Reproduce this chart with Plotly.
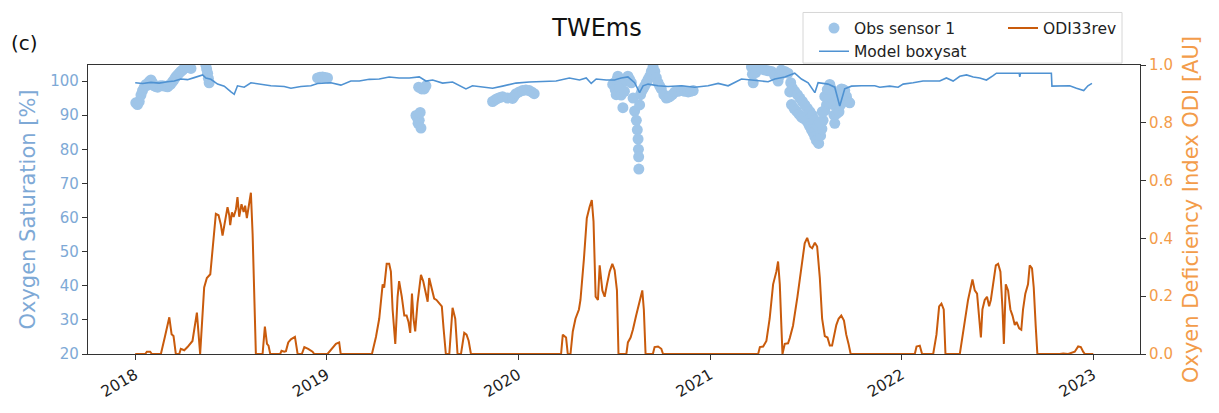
import numpy as np
import pandas as pd
import plotly.graph_objects as go

# ---------------- data (decimal years) ----------------
odi_time = [2018.000, 2018.052, 2018.061, 2018.078, 2018.087, 2018.134, 2018.155, 2018.178, 2018.190, 2018.200,
            2018.212, 2018.230, 2018.238, 2018.256, 2018.273, 2018.299, 2018.322, 2018.339, 2018.360, 2018.374,
            2018.392, 2018.400, 2018.413, 2018.421, 2018.435, 2018.447, 2018.456, 2018.468, 2018.482, 2018.491,
            2018.496, 2018.505, 2018.514, 2018.526, 2018.534, 2018.543, 2018.555, 2018.566, 2018.574, 2018.583,
            2018.595, 2018.604, 2018.613, 2018.621, 2018.630, 2018.665, 2018.677, 2018.688, 2018.696, 2018.705,
            2018.757, 2018.764, 2018.778, 2018.787, 2018.799, 2018.813, 2018.834, 2018.848, 2018.870, 2018.883,
            2018.903, 2018.926, 2018.935, 2019.004, 2019.022, 2019.048, 2019.065, 2019.073,
            2019.236, 2019.257, 2019.274, 2019.292, 2019.300, 2019.313, 2019.326, 2019.335, 2019.344, 2019.358,
            2019.370, 2019.378, 2019.392, 2019.405, 2019.417, 2019.427, 2019.436, 2019.445, 2019.453, 2019.462,
            2019.474, 2019.492, 2019.504, 2019.514, 2019.527, 2019.535, 2019.549, 2019.561, 2019.573, 2019.587,
            2019.601, 2019.610, 2019.622, 2019.640, 2019.657, 2019.671, 2019.683, 2019.701, 2019.718, 2019.730,
            2019.741, 2019.753,
            2020.223, 2020.232, 2020.249, 2020.258, 2020.272, 2020.284, 2020.298, 2020.316, 2020.324, 2020.342,
            2020.357, 2020.371, 2020.383, 2020.392, 2020.403, 2020.415, 2020.424, 2020.438, 2020.450, 2020.462,
            2020.476, 2020.490, 2020.502, 2020.514, 2020.522, 2020.563, 2020.571, 2020.585, 2020.597, 2020.614,
            2020.627, 2020.637, 2020.646, 2020.654, 2020.663, 2020.701, 2020.710, 2020.728, 2020.745, 2020.754,
            2021.250, 2021.259, 2021.276, 2021.293, 2021.310, 2021.328, 2021.337, 2021.345, 2021.354, 2021.363,
            2021.371, 2021.377, 2021.389, 2021.406, 2021.415, 2021.432, 2021.455, 2021.476, 2021.493, 2021.506,
            2021.520, 2021.532, 2021.546, 2021.558, 2021.572, 2021.584, 2021.598, 2021.612, 2021.624, 2021.636,
            2021.647, 2021.658, 2021.670, 2021.684, 2021.698, 2021.710, 2021.722, 2021.733,
            2022.068, 2022.077, 2022.094, 2022.106, 2022.164, 2022.181, 2022.195, 2022.207, 2022.219, 2022.228,
            2022.303, 2022.329, 2022.346, 2022.369, 2022.381, 2022.393, 2022.404, 2022.413, 2022.421, 2022.433,
            2022.445, 2022.456, 2022.465, 2022.477, 2022.491, 2022.503, 2022.515, 2022.526, 2022.533, 2022.543,
            2022.555, 2022.567, 2022.578, 2022.590, 2022.599, 2022.613, 2022.624, 2022.633, 2022.645, 2022.659,
            2022.668, 2022.680, 2022.689, 2022.699, 2022.708, 2022.825, 2022.843, 2022.869, 2022.886, 2022.903,
            2022.921, 2022.935, 2022.947, 2022.956, 2023.000]
odi_value = [0, 0, 0.008, 0.008, 0, 0, 0.06, 0.127, 0.068, 0.062,
             0, 0, 0.018, 0.013, 0.024, 0.045, 0.143, 0, 0.23, 0.263,
             0.276, 0.329, 0.43, 0.485, 0.480, 0.448, 0.410, 0.459, 0.508, 0.480,
             0.446, 0.490, 0.474, 0.501, 0.543, 0.475, 0.518, 0.491, 0.513, 0.470,
             0.529, 0.558, 0.415, 0.198, 0, 0, 0.095, 0.035, 0.029, 0,
             0, 0.011, 0.008, 0.010, 0.040, 0.051, 0.059, 0, 0, 0.024,
             0.018, 0.008, 0, 0, 0.013, 0.035, 0.040, 0,
             0, 0.059, 0.122, 0.241, 0.230, 0.312, 0.312, 0.285, 0.154, 0.035,
             0.198, 0.252, 0.198, 0.133, 0.133, 0.111, 0.073, 0.209, 0.122, 0.078,
             0.176, 0.274, 0.252, 0.220, 0.181, 0.263, 0.220, 0.192, 0.187, 0.176,
             0.165, 0.089, 0, 0, 0.160, 0.122, 0, 0, 0.073, 0.067,
             0.046, 0,
             0, 0.067, 0.057, 0, 0, 0.078, 0.122, 0.154, 0.187, 0.329,
             0.470, 0.508, 0.533, 0.459, 0.198, 0.187, 0.307, 0.220, 0.198, 0.241,
             0.285, 0.312, 0.290, 0.220, 0, 0, 0.04, 0.057, 0.084, 0.133,
             0.165, 0.198, 0.220, 0.154, 0, 0, 0.024, 0.026, 0.018, 0,
             0, 0.024, 0.026, 0.045, 0.122, 0.241, 0.263, 0.285, 0.320, 0.241,
             0.100, 0, 0.035, 0.037, 0.055, 0.098, 0.198, 0.307, 0.383, 0.402,
             0.372, 0.366, 0.385, 0.372, 0.263, 0.122, 0.062, 0.057, 0.029, 0.029,
             0.067, 0.100, 0.122, 0.133, 0.116, 0.067, 0.035, 0,
             0, 0.026, 0.029, 0, 0, 0.067, 0.165, 0.174, 0.154, 0,
             0, 0.111, 0.187, 0.258, 0.220, 0.209, 0.122, 0.057, 0.154, 0.187,
             0.198, 0.165, 0.187, 0.241, 0.307, 0.312, 0.285, 0.154, 0.035, 0.241,
             0.220, 0.154, 0.133, 0.100, 0.111, 0.089, 0.084, 0.154, 0.209, 0.241,
             0.307, 0.296, 0.230, 0.100, 0, 0, 0.002, 0, 0.004, 0.008,
             0.026, 0.024, 0.008, 0, 0]

model_time = [2018.000, 2018.038, 2018.082, 2018.125, 2018.169, 2018.204, 2018.238, 2018.273, 2018.308, 2018.334,
              2018.352, 2018.369, 2018.395, 2018.430, 2018.465, 2018.500, 2018.517, 2018.534, 2018.569, 2018.604,
              2018.656, 2018.708, 2018.778, 2018.813, 2018.865, 2018.917, 2018.952, 2019.022, 2019.074, 2019.126,
              2019.170, 2019.222, 2019.274, 2019.326, 2019.378, 2019.431, 2019.483, 2019.518, 2019.553, 2019.605,
              2019.657, 2019.692, 2019.727, 2019.761, 2019.814, 2019.866, 2019.918, 2019.988, 2020.057, 2020.127,
              2020.197, 2020.266, 2020.319, 2020.354, 2020.380, 2020.406, 2020.458, 2020.501, 2020.536, 2020.571,
              2020.606, 2020.632, 2020.650, 2020.676, 2020.728, 2020.780, 2020.850, 2020.919, 2020.989, 2021.041,
              2021.093, 2021.163, 2021.233, 2021.302, 2021.337, 2021.389, 2021.441, 2021.476, 2021.511, 2021.546,
              2021.563, 2021.615, 2021.650, 2021.676, 2021.702, 2021.737, 2021.789, 2021.859, 2021.885, 2021.937,
              2021.981, 2022.007, 2022.059, 2022.111, 2022.198, 2022.233, 2022.268, 2022.303, 2022.338, 2022.373,
              2022.407, 2022.442, 2022.477, 2022.494, 2022.613, 2022.616, 2022.620, 2022.781, 2022.784, 2022.825,
              2022.877, 2022.912, 2022.950, 2022.972, 2022.993]
model_value = [99.5, 99.3, 99.6, 99.4, 99.8, 100.0, 100.6, 100.4, 101.0, 101.5,
               101.8, 100.9, 100.5, 99.1, 98.5, 96.8, 96.1, 98.6, 98.2, 99.5,
               99.1, 98.6, 98.4, 97.9, 98.4, 98.6, 99.3, 99.5, 98.8, 100.0,
               100.0, 100.5, 100.6, 101.2, 100.9, 100.9, 101.2, 100.0, 100.3, 99.4,
               99.7, 98.8, 97.7, 98.6, 98.2, 97.9, 98.5, 99.4, 99.7, 99.9,
               100.0, 100.9, 100.3, 100.9, 99.3, 100.6, 100.3, 100.3, 100.9, 101.2,
               99.5, 96.6, 98.6, 99.1, 98.6, 98.4, 98.6, 98.2, 98.6, 99.3,
               98.6, 100.6, 100.3, 99.8, 100.6, 101.2, 102.3, 100.6, 99.5, 96.6,
               99.5, 99.1, 98.2, 92.7, 97.7, 98.5, 98.6, 98.6, 98.2, 98.5,
               98.2, 99.1, 99.5, 100.0, 100.0, 100.9, 100.0, 101.4, 101.8, 101.2,
               100.9, 100.3, 101.6, 102.3, 102.3, 101.2, 102.3, 102.3, 98.5, 98.5,
               98.6, 97.9, 97.2, 98.6, 99.3]

obs_time = [2018.003, 2018.012, 2018.021, 2018.030, 2018.038, 2018.047, 2018.056, 2018.064, 2018.073, 2018.082,
            2018.090, 2018.099, 2018.108, 2018.117, 2018.130, 2018.143, 2018.156, 2018.169, 2018.178, 2018.186,
            2018.195, 2018.204, 2018.212, 2018.221, 2018.230, 2018.238, 2018.247, 2018.256, 2018.264, 2018.273,
            2018.282, 2018.291, 2018.369, 2018.373, 2018.378, 2018.382, 2018.386,
            2018.952, 2018.965, 2018.978, 2018.991, 2019.004,
            2019.480, 2019.496, 2019.509, 2019.518, 2019.466, 2019.475, 2019.483, 2019.477, 2019.492, 2019.488,
            2019.866, 2019.879, 2019.892, 2019.905, 2019.918, 2019.944, 2019.970, 2019.979, 2019.988, 2020.005,
            2020.022, 2020.040, 2020.057, 2020.070, 2020.083,
            2020.492, 2020.501, 2020.505, 2020.510, 2020.515, 2020.519, 2020.527, 2020.536, 2020.545, 2020.553,
            2020.562, 2020.571, 2020.580, 2020.589, 2020.598, 2020.606, 2020.615, 2020.620, 2020.624, 2020.626,
            2020.627, 2020.628, 2020.632, 2020.637, 2020.643, 2020.650, 2020.658, 2020.667, 2020.676, 2020.685,
            2020.693, 2020.702, 2020.711, 2020.719, 2020.728, 2020.737, 2020.745, 2020.758, 2020.771, 2020.780,
            2020.789, 2020.802, 2020.815, 2020.832, 2020.850, 2020.867, 2020.885, 2020.898, 2020.911,
            2021.215, 2021.220, 2021.224, 2021.237, 2021.250, 2021.268, 2021.285, 2021.302, 2021.320, 2021.337,
            2021.354, 2021.362, 2021.371, 2021.389, 2021.406, 2021.415, 2021.420, 2021.424, 2021.437, 2021.450,
            2021.463, 2021.476, 2021.489, 2021.502, 2021.511, 2021.520, 2021.528, 2021.537, 2021.546, 2021.554,
            2021.566, 2021.576, 2021.583, 2021.589, 2021.598, 2021.607, 2021.615, 2021.624, 2021.632, 2021.641,
            2021.646, 2021.650, 2021.659, 2021.667, 2021.676, 2021.685, 2021.694, 2021.702, 2021.711, 2021.719,
            2021.728,
            2021.428, 2021.441, 2021.455, 2021.468, 2021.481, 2021.494, 2021.507, 2021.520, 2021.533, 2021.546,
            2021.559, 2021.572, 2021.585, 2021.598, 2021.611, 2021.624, 2021.655, 2021.663, 2021.672, 2021.680]
obs_value = [93.6, 93.1, 94.0, 95.9, 97.2, 98.2, 99.0, 98.8, 99.8, 100.3,
             99.5, 98.6, 98.4, 98.2, 98.6, 98.6, 98.5, 98.3, 98.8, 99.1,
             99.8, 100.5, 101.2, 101.8, 102.3, 102.8, 103.2, 103.7, 103.9, 104.1,
             104.0, 103.7, 104.6, 103.5, 102.3, 100.8, 99.5,
             100.9, 101.1, 101.2, 101.0, 100.9,
             98.2, 97.7, 97.7, 98.6, 89.9, 89.0, 88.5, 87.6, 86.2, 90.8,
             94.0, 94.5, 94.9, 95.2, 95.4, 95.0, 94.9, 95.6, 96.3, 96.8,
             97.2, 97.4, 97.2, 96.8, 96.3,
             99.0, 99.5, 97.5, 96.0, 100.5, 101.4, 98.0, 95.9, 92.2, 97.0,
             100.0, 101.4, 100.5, 99.5, 95.0, 91.2, 88.5, 85.7, 83.0, 80.0,
             77.8, 74.2, 93.0, 96.0, 97.0, 97.7, 98.5, 99.5, 100.5, 101.4,
             102.8, 104.1, 102.8, 101.0, 99.5, 98.5, 97.7, 96.0, 95.0, 95.2,
             95.4, 96.0, 96.8, 97.0, 97.2, 97.0, 96.8, 97.0, 97.2,
             104.1, 102.0, 99.5, 102.5, 103.7, 103.5, 103.2, 103.0, 102.8, 101.5,
             100.0, 101.5, 103.2, 102.8, 102.3, 96.8, 99.5, 93.1, 92.0, 91.2,
             90.3, 89.4, 89.0, 88.5, 87.6, 86.7, 85.8, 84.9, 83.7, 82.6,
             81.7, 84.0, 86.0, 88.5, 91.3, 93.0, 95.0, 96.5, 97.7, 93.1,
             90.0, 87.6, 90.4, 95.0, 96.5, 97.7, 97.5, 97.2, 95.5, 94.0,
             93.6,
             98.0, 97.0, 96.0, 95.0, 94.0, 93.0, 92.0, 91.0, 90.0, 88.5,
             87.0, 88.0, 91.0, 95.5, 97.5, 99.0, 96.0, 92.5, 91.0, 93.0]

year_ticks = ["2018", "2019", "2020", "2021", "2022", "2023"]
left_ticks = [20, 30, 40, 50, 60, 70, 80, 90, 100]
right_ticks = [0.0, 0.2, 0.4, 0.6, 0.8, 1.0]


def to_date(values):
    out = []
    for v in values:
        yr = int(np.floor(v))
        start = pd.Timestamp(yr, 1, 1)
        end = pd.Timestamp(yr + 1, 1, 1)
        out.append(start + (end - start) * (v - yr))
    return out


FONT = "DejaVu Sans"
OBS_C = "#9fc5e8"
MODEL_C = "#4f92d2"
ODI_C = "#c95b0c"
LEFT_C = "#7ea9d6"
RIGHT_C = "#f39c4a"

# plot-area geometry in pixels (used only to place legend / labels)
L, R, T, B = 88, 1140, 62, 370
PW, PH = R - L, B - T


def px(x):
    return (x - L) / PW


def py(y):
    return (B - y) / PH


fig = go.Figure()
fig.add_trace(go.Scatter(
    x=to_date(obs_time), y=obs_value, mode="markers", name="Obs sensor 1",
    marker=dict(color=OBS_C, size=11, line=dict(width=0)), legend="legend"))
fig.add_trace(go.Scatter(
    x=to_date(model_time), y=model_value, mode="lines", name="Model boxysat",
    line=dict(color=MODEL_C, width=1.6), legend="legend"))
fig.add_trace(go.Scatter(
    x=to_date(odi_time), y=odi_value, mode="lines", name="ODI33rev",
    line=dict(color=ODI_C, width=2), yaxis="y2", legend="legend2"))

axis_line = dict(showline=True, linecolor="#333", linewidth=1.2, showgrid=False,
                 zeroline=False, ticks="outside", ticklen=5, tickcolor="#333")

fig.update_layout(
    width=1219, height=413,
    margin=dict(l=L, r=1219 - R, t=T, b=413 - B),
    plot_bgcolor="white", paper_bgcolor="white",
    font=dict(family=FONT, size=15, color="#222"),
    title=dict(text="TWEms", font=dict(size=24, color="#111"),
               xref="container", x=597 / 1219, xanchor="center",
               yref="container", y=1 - 28 / 413, yanchor="middle"),
    xaxis=dict(**axis_line, mirror=True, type="date",
               range=[pd.Timestamp("2017-10-03"), pd.Timestamp("2023-03-31")],
               tickvals=to_date([float(t) for t in year_ticks]), ticktext=year_ticks,
               tickangle=-30, tickfont=dict(size=15.5, color="#222")),
    yaxis=dict(**axis_line, range=[20, 104.7], tickvals=left_ticks,
               tickfont=dict(size=15, color=LEFT_C),
               title=dict(text="Oxygen Saturation [%]", font=dict(size=21, color=LEFT_C), standoff=8)),
    yaxis2=dict(**axis_line, overlaying="y", side="right", range=[0, 1],
                tickvals=right_ticks, tickformat=".1f",
                tickfont=dict(size=15, color=RIGHT_C),
                title=dict(text="Oxyen Deficiency Index ODI [AU]", font=dict(size=21, color=RIGHT_C), standoff=11)),
    legend=dict(x=px(814), y=py(5), xanchor="left", yanchor="top", orientation="v",
                bgcolor="rgba(0,0,0,0)", borderwidth=0, font=dict(size=15.5, color="#222"),
                tracegroupgap=0),
    legend2=dict(x=px(1003), y=py(5), xanchor="left", yanchor="top", orientation="v",
                 bgcolor="rgba(0,0,0,0)", borderwidth=0, font=dict(size=15.5, color="#222")),
    shapes=[dict(type="rect", xref="paper", yref="paper",
                 x0=px(803), x1=px(1122), y0=py(60), y1=py(6),
                 line=dict(color="#d6d6d6", width=1), fillcolor="rgba(255,255,255,0.85)",
                 layer="below")],
    annotations=[dict(text="(c)", xref="paper", yref="paper",
                      x=px(9), y=py(39), xanchor="left", yanchor="middle",
                      showarrow=False, font=dict(size=20, color="#111"))],
    showlegend=True,
)

fig.write_html("out.html")
